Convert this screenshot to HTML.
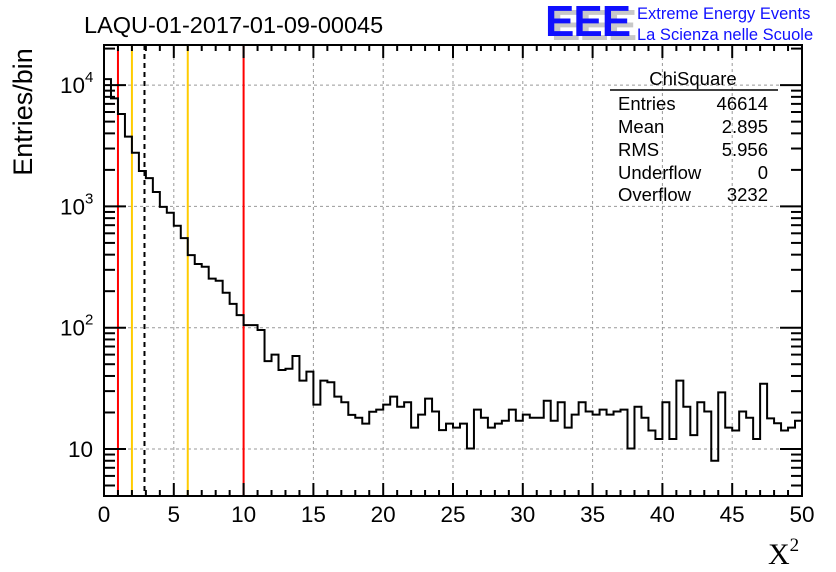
<!DOCTYPE html>
<html><head><meta charset="utf-8"><style>
body{margin:0;background:#fff;}
svg{display:block;font-family:"Liberation Sans",sans-serif;}
</style></head><body>
<svg id="c" width="836" height="572" viewBox="0 0 836 572">
<rect width="836" height="572" fill="#fff"/>
<g id="grid"></g>
<g id="vlines"></g>
<path id="hist" fill="none" stroke="#000" stroke-width="2"/>
<rect x="104" y="45" width="698" height="451" fill="none" stroke="#000" stroke-width="2"/>
<g id="ticks"></g>
<g id="labels" font-size="22.5"></g>
<text x="84" y="33" font-size="23.5">LAQU-01-2017-01-09-00045</text>
<g>
<text x="551" y="40" font-size="44" font-weight="bold" fill="#c8c8c8" letter-spacing="-1">EEE</text>
<text x="545" y="36" font-size="44" font-weight="bold" fill="#1010ff" letter-spacing="-1">EEE</text>
<text x="637" y="19" font-size="16.5" fill="#1010ff">Extreme Energy Events</text>
<text x="637" y="40" font-size="16.5" fill="#1010ff">La Scienza nelle Scuole</text>
</g>
<text transform="translate(32,112) rotate(-90)" text-anchor="middle" font-size="27">Entries/bin</text>
<text x="768" y="564" font-family="Liberation Serif,serif" font-size="30">X<tspan font-size="19" dy="-13">2</tspan></text>
<g font-size="18.5">
<text x="693" y="85" text-anchor="middle">ChiSquare</text>
<line x1="610" y1="90" x2="778" y2="90" stroke="#000" stroke-width="1.5"/>
<text x="618" y="110">Entries</text><text x="768" y="110" text-anchor="end">46614</text>
<text x="618" y="133">Mean</text><text x="768" y="133" text-anchor="end">2.895</text>
<text x="618" y="156">RMS</text><text x="768" y="156" text-anchor="end">5.956</text>
<text x="618" y="179">Underflow</text><text x="768" y="179" text-anchor="end">0</text>
<text x="618" y="201">Overflow</text><text x="768" y="201" text-anchor="end">3232</text>
</g>
</svg>
<script>
const binWidth = 0.5;
const counts = [11200,7780,5780,3760,2770,1960,1710,1315,990,887,
693,548,397,335,318,254,244,194,157,127,
105,105,95.7,53,60,44.8,45.9,58.4,36.6,43.4,
23.2,36.6,35.5,27.0,24.3,19.1,18.1,16.2,20.3,21.1,
23.2,27.0,22.3,24.3,15.0,19.2,26.0,20.4,14.3,16.2,
15.0,16.2,10.1,21.1,18.1,15.0,16.2,17.1,21.1,17.1,
19.2,18.1,18.1,25.0,17.1,24.3,15.0,19.2,24.3,20.4,
19.2,21.1,19.2,20.4,21.1,10.1,22.3,18.1,14.2,12.1,
24.3,12.1,36.6,22.3,13.0,24.3,20.4,8.0,29.3,15.0,
14.2,20.4,18.1,12.1,34.5,17.9,16.3,14.2,15.0,17.1];
const xTicks = [0,5,10,15,20,25,30,35,40,45,50];
const yDecades = [1,2,3,4];
const redLines = [1,10];
const yellowLines = [2,6];
const meanLine = [2.9];

const NS="http://www.w3.org/2000/svg";
const X0=104,X1=802,Y0=45,Y1=496;
const xMin=0,xMax=50;
const lMin=0.6125,lMax=4.3306;
const sx=v=>X0+(v-xMin)/(xMax-xMin)*(X1-X0);
const sy=v=>Y1-(Math.log10(v)-lMin)/(lMax-lMin)*(Y1-Y0);
function mk(tag,attrs,parent){const e=document.createElementNS(NS,tag);for(const k in attrs)e.setAttribute(k,attrs[k]);parent.appendChild(e);return e;}
const grid=document.getElementById('grid'),ticks=document.getElementById('ticks'),labels=document.getElementById('labels'),vl=document.getElementById('vlines');
xTicks.forEach(t=>{const x=sx(t);
 if(t>0&&t<50){const g=mk('line',{x1:x,y1:Y0,x2:x,y2:Y1,stroke:'#999','stroke-dasharray':'3,3'},grid);
 
 }
 const l=mk('text',{x:x,y:522,'text-anchor':'middle'},labels);l.textContent=t;
 
 
});
for(let v=0;v<=50;v++){const x=sx(v),len=v%5==0?13:6;
 mk('line',{x1:x,y1:Y1,x2:x,y2:Y1-len,stroke:'#000','stroke-width':2},ticks);
 mk('line',{x1:x,y1:Y0,x2:x,y2:Y0+len,stroke:'#000','stroke-width':2},ticks);}
for(let d=0;d<=4;d++)for(let m=1;m<=9;m++){const v=m*Math.pow(10,d);const y=sy(v);if(y<Y0||y>Y1)continue;const len=m==1?22:11;
 mk('line',{x1:X0,y1:y,x2:X0+len,y2:y,stroke:'#000','stroke-width':2},ticks);
 mk('line',{x1:X1,y1:y,x2:X1-len,y2:y,stroke:'#000','stroke-width':2},ticks);}
yDecades.forEach(d=>{const y=sy(Math.pow(10,d));
 const g=mk('line',{x1:X0,y1:y,x2:X1,y2:y,stroke:'#999','stroke-dasharray':'3,3'},grid);
 
 
 const t=mk('text',{x:d==1?93:80,y:y+8,'text-anchor':'end'},labels);
 
 
 if(d==1){t.textContent='10';}else{t.setAttribute('x',60);t.setAttribute('text-anchor','start');t.textContent='10';const s=mk('tspan',{'font-size':15,dy:-11},t);s.textContent=d;}
});
function vline(v,col,dash,name){const x=sx(v);const e=mk('line',{x1:x,y1:Y0,x2:x,y2:Y1,stroke:col,'stroke-width':2},vl);if(dash)e.setAttribute('stroke-dasharray',dash);
 
 }
redLines.forEach(v=>vline(v,'#ff0000',null,'red-cut-line'));
yellowLines.forEach(v=>vline(v,'#ffcc00',null,'yellow-cut-line'));
meanLine.forEach(v=>vline(v,'#000',"5,4",'mean-line'));
let d='';
counts.forEach((c,i)=>{const xa=sx(i*binWidth),xb=sx((i+1)*binWidth),y=sy(c);
 d+=(i==0?'M'+xa+','+y:'L'+xa+','+y)+'L'+xb+','+y;});
document.getElementById('hist').setAttribute('d',d);
</script>
</body></html>
